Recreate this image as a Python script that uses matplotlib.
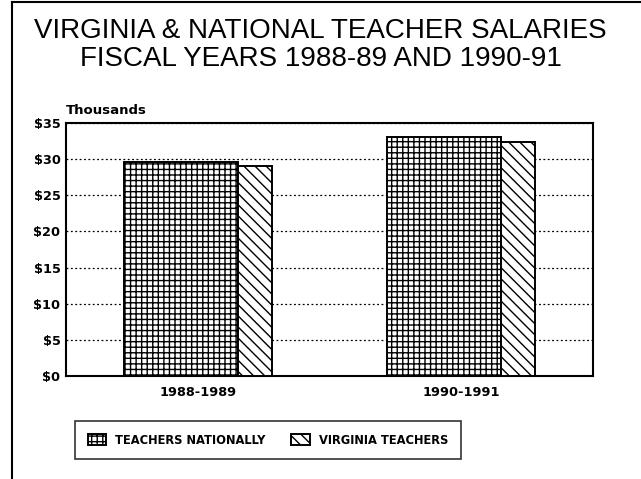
import matplotlib.pyplot as plt
from matplotlib.lines import Line2D

plt.rcParams['font.family'] = ['Liberation Sans', 'DejaVu Sans']
plt.rcParams['hatch.linewidth'] = 1.0

years = ['1988-1989', '1990-1991']
national = [29.6, 33.0]
virginia = [29.05, 32.4]
yticks = [0, 5, 10, 15, 20, 25, 30, 35]
ylabels = ['$' + str(v) for v in yticks]

bold = {'family': 'DejaVu Sans', 'weight': 'bold'}

fig = plt.figure(figsize=(6.41, 4.79), dpi=100)
ax = fig.add_axes([66 / 641, 1 - 376 / 479, 527 / 641, 253 / 479])

x = list(range(len(years)))
w_nat, w_va = 0.432, 0.129
left = [i - (w_nat + w_va) / 2 for i in x]
ax.bar(left, national, width=w_nat, align='edge', color='white',
       edgecolor='black', hatch='+++', linewidth=1.4, label='TEACHERS NATIONALLY', zorder=3)
ax.bar([l + w_nat for l in left], virginia, width=w_va, align='edge', color='white',
       edgecolor='black', hatch='\\\\\\', linewidth=1.4, label='VIRGINIA TEACHERS', zorder=3)

ax.set_xlim(-0.5, 1.5)
ax.set_ylim(0, 35)
ax.set_yticks(yticks)
ax.set_yticklabels(ylabels, fontdict=bold, fontsize=9.3)
ax.set_xticks(x)
ax.set_xticklabels(years, fontdict=bold, fontsize=9.3)
ax.tick_params(axis='y', length=0, pad=4)
ax.tick_params(axis='x', length=0, pad=7)
ax.yaxis.grid(True, linestyle=(0, (1.5, 2)), color='black', linewidth=0.9, zorder=0)
ax.set_axisbelow(True)
for s in ax.spines.values():
    s.set_linewidth(1.5)

ax.text(0, 1.025, 'Thousands', transform=ax.transAxes, fontdict=bold, fontsize=9.5,
        ha='left', va='bottom')

fig.text(0.5, 1 - 31 / 479, 'VIRGINIA & NATIONAL TEACHER SALARIES',
         ha='center', va='center', fontsize=20)
fig.text(0.5, 1 - 59 / 479, 'FISCAL YEARS 1988-89 AND 1990-91',
         ha='center', va='center', fontsize=20)

leg = fig.legend(loc='center', bbox_to_anchor=(268 / 641, 1 - 440 / 479), ncol=2,
                 frameon=True, fancybox=False, edgecolor='black',
                 prop={'family': 'DejaVu Sans', 'weight': 'bold', 'size': 8.3},
                 handlelength=1.6, handleheight=1.1, handletextpad=0.8,
                 columnspacing=2.2, borderpad=1.1)
leg.get_frame().set_linewidth(1.2)

fig.add_artist(Line2D([12 / 641, 12 / 641], [0, 1 - 2 / 479], color='black', linewidth=1.5))
fig.add_artist(Line2D([12 / 641, 1], [1 - 2 / 479, 1 - 2 / 479], color='black', linewidth=1.5))

fig.savefig('out.png', dpi=100)
